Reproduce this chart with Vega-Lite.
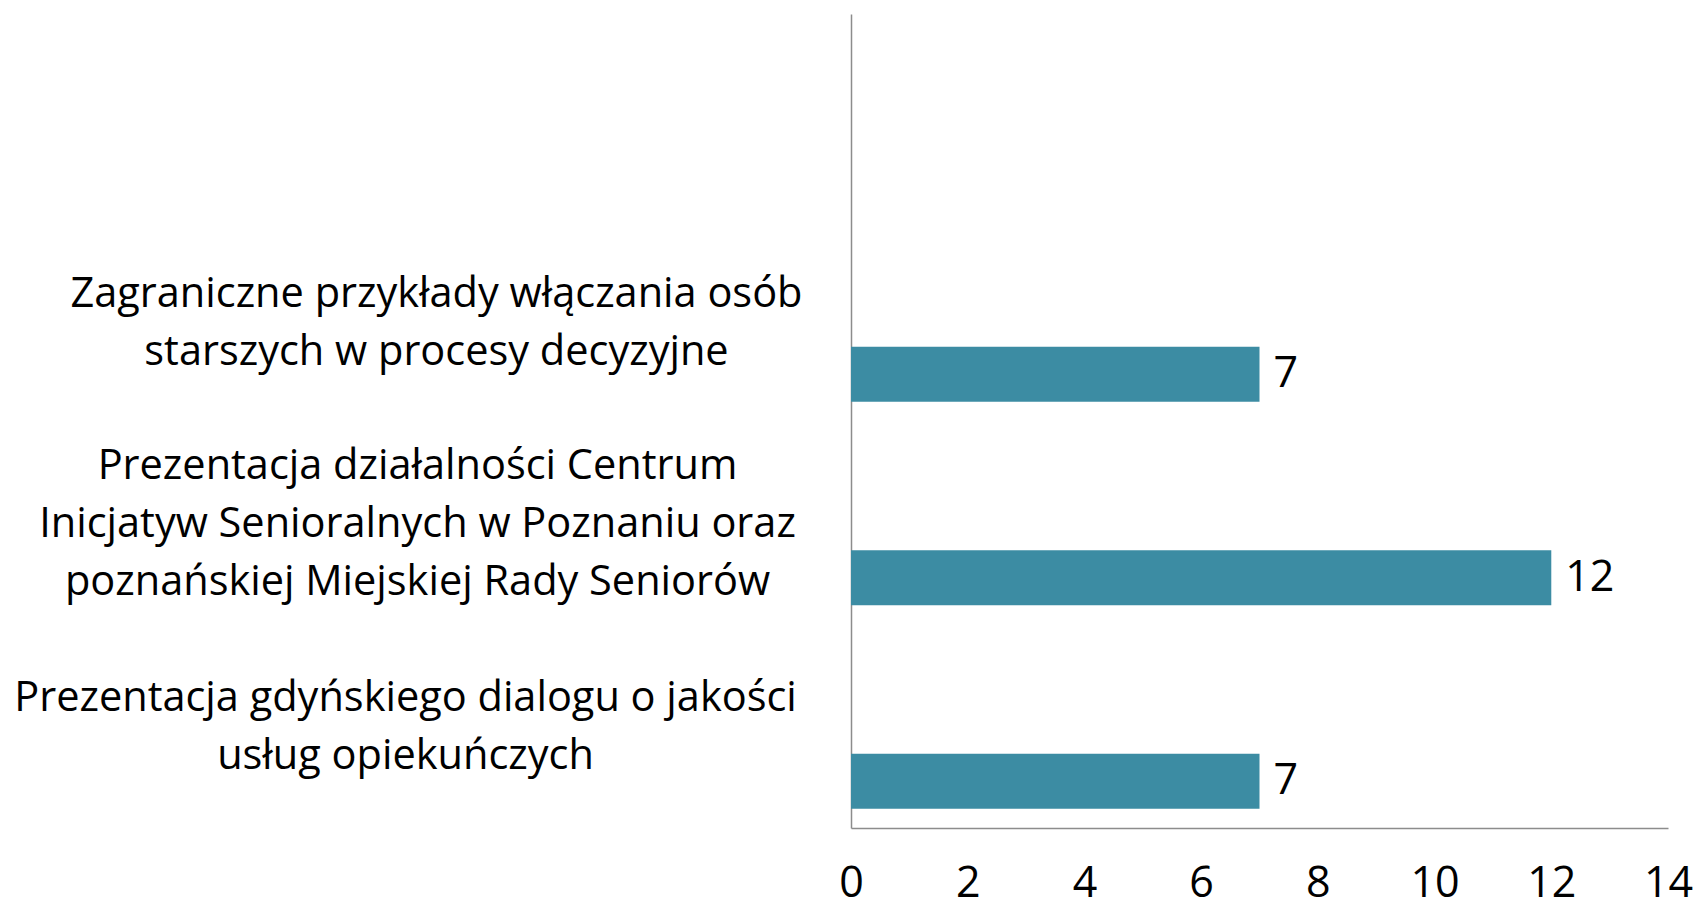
{
  "$schema": "https://vega.github.io/schema/vega-lite/v6.json",
  "width": 817,
  "height": 814,
  "autosize": "none",
  "padding": {"left": 851, "top": 14, "right": 30, "bottom": 79},
  "background": "white",
  "config": {"view": {"stroke": null}, "font": "Open Sans"},
  "data": {
    "values": [
      {"kategoria": "Zagraniczne przykłady włączania osób|starszych w procesy decyzyjne", "seria": "c", "wartosc": 7},
      {"kategoria": "Prezentacja działalności Centrum|Inicjatyw Senioralnych w Poznaniu oraz|poznańskiej Miejskiej Rady Seniorów", "seria": "c", "wartosc": 12},
      {"kategoria": "Prezentacja gdyńskiego dialogu o jakości|usług opiekuńczych", "seria": "c", "wartosc": 7}
    ]
  },
  "encoding": {
    "y": {
      "field": "kategoria",
      "type": "nominal",
      "sort": null,
      "scale": {
        "domain": [" ", "Zagraniczne przykłady włączania osób|starszych w procesy decyzyjne", "Prezentacja działalności Centrum|Inicjatyw Senioralnych w Poznaniu oraz|poznańskiej Miejskiej Rady Seniorów", "Prezentacja gdyńskiego dialogu o jakości|usług opiekuńczych"],
        "paddingInner": 0,
        "paddingOuter": 0
      },
      "axis": {
        "title": null,
        "ticks": false,
        "tickSize": 0,
        "domainColor": "#8c8c8c",
        "domainWidth": 1.5,
        "labelExpr": "split(datum.label, '|')",
        "labelAlign": "center",
        "labelBaseline": "middle",
        "labelFont": "Open Sans",
        "labelFontSize": 41.5,
        "labelLineHeight": 58,
        "labelColor": "#000000",
        "labelLimit": 0,
        "labelPadding": {"condition": [{"test": "datum.index < 0.5", "value": 415}, {"test": "datum.index < 0.9", "value": 434}], "value": 446},
        "labelOffset": {"condition": [{"test": "datum.index < 0.5", "value": -24}, {"test": "datum.index < 0.9", "value": -56}], "value": -27}
      }
    },
    "yOffset": {
      "field": "seria",
      "type": "nominal",
      "scale": {"domain": ["a", "b", "c"], "paddingInner": 0, "paddingOuter": 0.35}
    },
    "x": {
      "field": "wartosc",
      "type": "quantitative",
      "scale": {"domain": [0, 14], "nice": false},
      "axis": {
        "title": null,
        "values": [0, 2, 4, 6, 8, 10, 12, 14],
        "grid": false,
        "ticks": false,
        "tickSize": 0,
        "domainColor": "#8c8c8c",
        "domainWidth": 1.5,
        "labelFont": "Open Sans",
        "labelFontSize": 43,
        "labelColor": "#000000",
        "labelPadding": 68,
        "labelBaseline": "alphabetic",
        "labelFlush": false
      }
    }
  },
  "layer": [
    {"mark": {"type": "bar", "color": "#3C8CA3"}},
    {
      "mark": {"type": "text", "align": "left", "baseline": "middle", "dx": 14, "font": "Open Sans", "fontSize": 43, "color": "#000000"},
      "encoding": {"text": {"field": "wartosc", "type": "quantitative"}}
    }
  ]
}
